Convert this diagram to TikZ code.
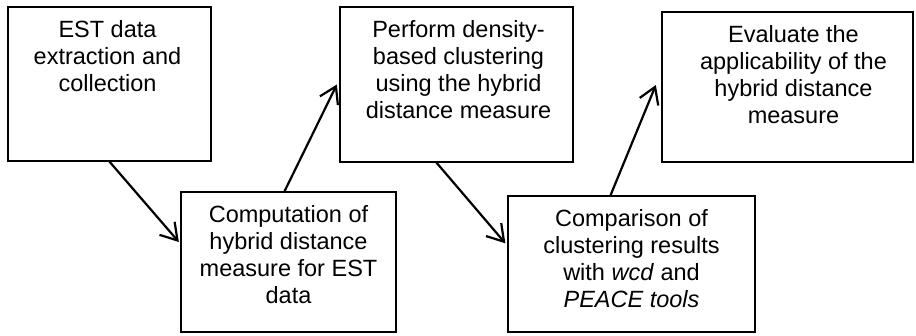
\documentclass[tikz,border=0pt]{standalone}
\usepackage{fontspec}
\setmainfont{Liberation Sans}
\usetikzlibrary{positioning, arrows.meta}

\begin{document}
\begin{tikzpicture}[x=1pt, y=-1pt,
    procbox/.style={draw=black, line width=1.3pt, rectangle, inner sep=0pt},
    proctext/.style={anchor=north, align=center, inner sep=0pt,
        font=\fontsize{23.5}{27.3}\selectfont},
    flow/.style={-{Straight Barb[length=16pt, width=20pt, line width=2.2pt]}, line width=2.2pt}]
    \useasboundingbox (0,0) rectangle (916,335);

    % process boxes
    \node[procbox, minimum width=203pt, minimum height=154pt] (b1) at (109.5,84) {};
    \node[procbox, minimum width=215pt, minimum height=140pt] (b2) at (288.5,262) {};
    \node[procbox, minimum width=233pt, minimum height=155pt] (b3) at (456.5,84.5) {};
    \node[procbox, minimum width=247pt, minimum height=136pt] (b4) at (631.5,264) {};
    \node[procbox, minimum width=251pt, minimum height=150pt] (b5) at (787.5,87) {};

    % box texts
    \node[proctext, yshift=-13.5pt, xshift=-2pt] (t1) at (b1.north) {EST data\\extraction and\\collection};
    \node[proctext, yshift=-13.5pt] (t2) at (b2.north) {Computation of\\hybrid distance\\measure for EST\\data};
    \node[proctext, yshift=-13.5pt, xshift=2pt] (t3) at (b3.north) {Perform density-\\based clustering\\using the hybrid\\distance measure};
    \node[proctext, yshift=-13.5pt] (t4) at (b4.north) {Comparison of\\clustering results\\with \textit{wcd} and\\\textit{PEACE tools}};
    \node[proctext, yshift=-13.5pt, xshift=6pt] (t5) at (b5.north) {Evaluate the\\applicability of the\\hybrid distance\\measure};

    % flow arrows
    \draw[flow] (b1.south) -- ([xshift=-1.5pt, yshift=20pt]b2.west);
    \draw[flow] ([xshift=-4pt]b2.north) -- ([xshift=-2.5pt]b3.west);
    \draw[flow] ([xshift=-20pt]b3.south) -- ([xshift=-2pt, yshift=20.7pt]b4.west);
    \draw[flow] ([xshift=-21pt]b4.north) -- ([xshift=-5.5pt, yshift=2pt]b5.west);
\end{tikzpicture}
\end{document}
